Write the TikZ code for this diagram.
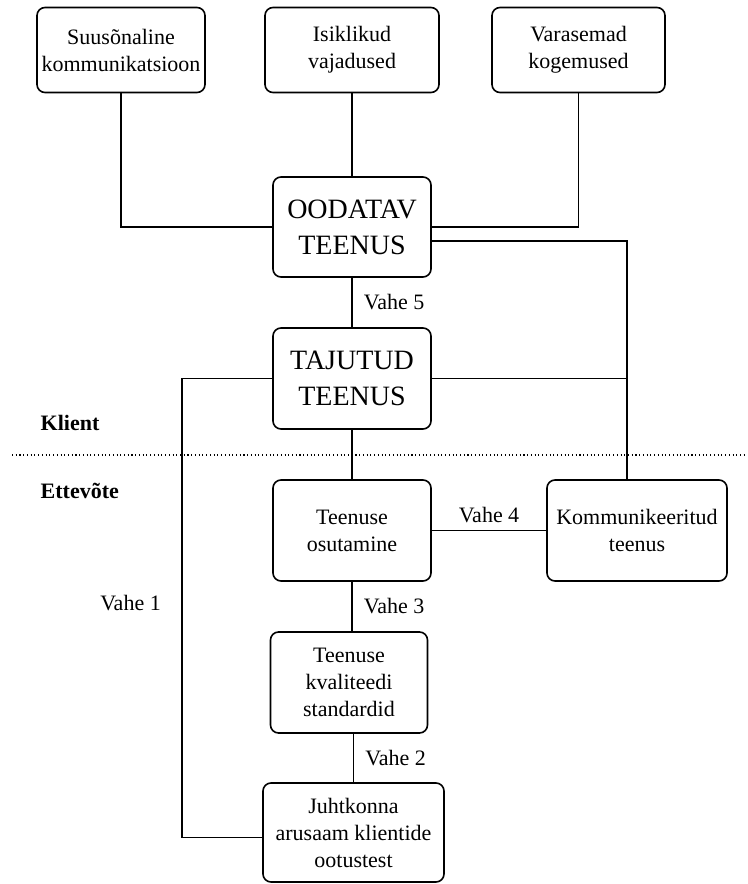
\documentclass[tikz,border=0pt]{standalone}
\usepackage{fontspec}
\setmainfont{Liberation Serif}
\usetikzlibrary{calc}
\tikzset{>=latex}
\tikzset{
    box/.style={draw, rounded corners=6pt, line width=1.2pt, align=center,
        inner sep=2pt, font=\fontsize{16.5}{20.25}\selectfont},
    bigbox/.style={box, font=\fontsize{21}{27}\selectfont},
    gaplabel/.style={font=\fontsize{16.5}{20}\selectfont},
    side/.style={anchor=west, font=\bfseries\fontsize{16.5}{20}\selectfont},
    link/.style={line width=1.2pt},
}
\begin{document}
\begin{tikzpicture}[x=0.75pt,y=-0.75pt]
    \useasboundingbox (0,0) rectangle (747,884);

    \node[box, minimum width=126pt, minimum height=63.75pt] (verbal) at (121,50)
        {Suusõnaline\\kommunikatsioon};
    \node[box, minimum width=130.5pt, minimum height=63.75pt] (needs) at (352,50)
        {Isiklikud\\vajadused};
    \node[box, minimum width=129.75pt, minimum height=63.75pt] (past) at (578.5,50)
        {Varasemad\\kogemused};

    \node[bigbox, minimum width=118.5pt, minimum height=75pt] (expected) at (352,227)
        {OODATAV\\TEENUS};
    \node[bigbox, minimum width=118.5pt, minimum height=75.75pt] (perceived) at (352,378.5)
        {TAJUTUD\\TEENUS};

    \node[box, minimum width=118.5pt, minimum height=75.75pt] (delivery) at (352,530.5)
        {Teenuse\\osutamine};
    \node[box, minimum width=135pt, minimum height=75.75pt] (comm) at (637,530.5)
        {Kommunikeeritud\\teenus};
    \node[box, minimum width=117.75pt, minimum height=75.75pt] (standards) at (349,682.5)
        {Teenuse\\kvaliteedi\\standardid};
    \node[box, minimum width=135.75pt, minimum height=74.25pt] (mgmt) at (353.5,832.5)
        {Juhtkonna\\arusaam klientide\\ootustest};

    % klient / ettevote
    \draw[dotted, line width=0.8pt] (12,455) -- (747,455);
    \node[side] (client) at (36,423) {Klient};
    \node[side] (firm) at (36,491) {Ettevõte};

    \coordinate (kt) at ($(comm.north)+(-10,0)$);
    \coordinate (v1) at (182,603);

    \draw[link] (verbal.south) |- (expected.west);
    \draw[link] (needs.south) -- (expected.north);
    \draw[link] (past.south) |- (expected.east);
    \draw[link] ($(expected.east)+(0,14)$) -| (kt);
    \draw[link] (perceived.east) -- (kt |- perceived.east);

    \draw[link] (expected.south) -- (perceived.north)
        node[gaplabel, midway, right=5pt] {Vahe 5};
    \draw[link] (perceived.south) -- (delivery.north);
    \draw[link] (delivery.east) -- (comm.west)
        node[gaplabel, midway, above=2pt] {Vahe 4};
    \draw[link] (delivery.south) -- (delivery.south |- standards.north)
        node[gaplabel, midway, right=5pt] {Vahe 3};
    \draw[link] (standards.south -| mgmt.north) -- (mgmt.north)
        node[gaplabel, midway, right=5pt] {Vahe 2};
    \draw[link] (perceived.west) -| (v1) node[gaplabel, left=12pt] {Vahe 1}
        |- ($(mgmt.west)+(0,5)$);
\end{tikzpicture}
\end{document}
